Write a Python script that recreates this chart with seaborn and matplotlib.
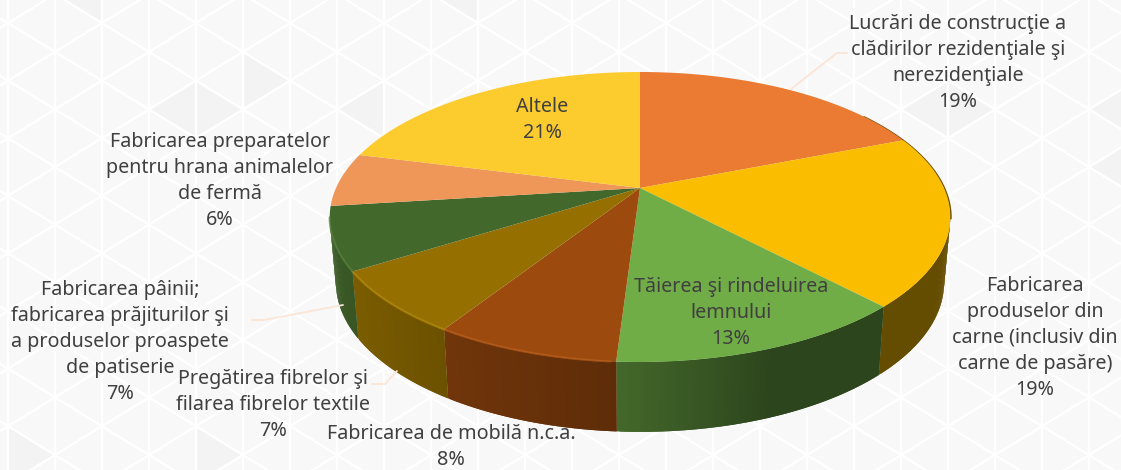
import matplotlib
matplotlib.use('Agg')
import matplotlib.pyplot as plt
import numpy as np
import seaborn as sns
from matplotlib.path import Path
from matplotlib.transforms import Affine2D, Transform

sns.set_theme(style='white')
plt.rcParams['font.family'] = ['Noto Sans', 'DejaVu Sans']

# data
categories = [
    'Lucrări de construcţie a\nclădirilor rezidenţiale şi\nnerezidenţiale',
    'Fabricarea\nproduselor din\ncarne (inclusiv din\ncarne de pasăre)',
    'Tăierea şi rindeluirea\nlemnului',
    'Fabricarea de mobilă n.c.a.',
    'Pregătirea fibrelor şi\nfilarea fibrelor textile',
    'Fabricarea pâinii;\nfabricarea prăjiturilor şi\na produselor proaspete\nde patiserie',
    'Fabricarea preparatelor\npentru hrana animalelor\nde fermă',
    'Altele',
]
values = [19, 19, 13, 8, 7, 7, 6, 21]
colors = ['#EB7B32', '#FBBD00', '#70AD47', '#9C4A0E', '#957000', '#43682B', '#EF9659', '#FCCB2E']

# label centres in image pixels
label_pos = [(958, 63), (1035, 338), (731, 313), (451, 447), (273, 405), (120, 342), (220, 181), (542, 120)]

CX, CY = 640, 188
A, B, K = 304, 139.2, 0.2


class Perspective(Transform):
    input_dims = output_dims = 2

    def transform_non_affine(self, values):
        xy = np.asarray(values)
        w = 1 + K * xy[:, 1]
        return np.column_stack([CX + A * xy[:, 0] / w, CY - B * xy[:, 1] / w])

    def transform_path_non_affine(self, path):
        # flatten the arc first, bezier handles do not survive the projection
        big = Affine2D().scale(2000).transform_path(path)
        poly = big.to_polygons(closed_only=False)[0] / 2000
        return Path(self.transform_non_affine(poly))


persp = Perspective()


def wall_shade(x):
    return np.interp(x, [-1, -0.6, -0.06, 0.35, 1], [0.88, 0.74, 0.6, 0.4, 0.4])


fig, ax = plt.subplots(figsize=(11.21, 4.7), dpi=100)
fig.subplots_adjust(0, 0, 1, 1)

palette = sns.color_palette(colors)
wedges, _ = ax.pie(values, colors=palette, startangle=90, counterclock=False,
                   wedgeprops={'linewidth': 0})
ax.set_aspect('auto')
ax.set_xlim(0, 1121)
ax.set_ylim(470, 0)
ax.set_facecolor('#F8F8F8')
ax.set_frame_on(True)
for s in ax.spines.values():
    s.set_visible(False)

# background pattern: white triangle grid with a few darker cells
GX, GY, STEP, ROW = 8, 23, 47, 57.6
dark_cells = [
    [(55, -6), (102, 23), (102, -35)],
    [(149, 110), (196, 81), (196, 138)],
    [(243, 110), (196, 81), (196, 138)],
    [(337, 110), (384, 81), (384, 138)],
    [(243, 52), (243, 110), (290, 81)],
    [(431, -6), (478, 23), (478, -35)],
    [(901, 110), (948, 81), (948, 138)],
    [(995, 110), (948, 81), (948, 138)],
    [(1089, 110), (1136, 81), (1136, 138)],
    [(1089, 167), (1136, 138), (1136, 196)],
    [(8, 426), (8, 484), (55, 455)],
    [(243, 455), (196, 426), (196, 484)],
]
for cell in dark_cells:
    xs, ys = zip(*cell)
    ax.fill(xs, ys, color='#F3F3F3', lw=0, zorder=0)

grid_x = np.array([0, 1121])
slope = ROW / 2 / STEP
for k in range(25):
    ax.plot([GX + k * STEP] * 2, [0, 470], color='white', lw=1.7, zorder=0.5)
for k in range(-20, 30):
    ax.plot(grid_x, GY + k * ROW + slope * (grid_x - GX), color='white', lw=1.7, zorder=0.5)
    ax.plot(grid_x, GY + k * ROW - slope * (grid_x - GX), color='white', lw=1.7, zorder=0.5)

# side walls and rim, thin strips on the visible front only
for wedge, col in zip(wedges, palette):
    t = np.radians(np.arange(wedge.theta1, wedge.theta2 + 0.5, 0.5))
    t[-1] = np.radians(wedge.theta2)
    t = t[np.sin(t) < -0.2]
    wedge.set_transform(persp + ax.transData)
    wedge.set_zorder(3)
    wedge.set_clip_on(False)
    if len(t) < 2:
        continue
    top = persp.transform_non_affine(np.column_stack([np.cos(t), np.sin(t)]))
    low = np.column_stack([CX + 0.98 * (top[:, 0] - CX), 59 + 1.03 * top[:, 1]])
    for i in range(len(t) - 1):
        c = tuple(np.array(col) * wall_shade(np.cos(t[i])))
        j = min(i + 3, len(t))
        quad = np.vstack([top[i:j], low[i:j][::-1]])
        ax.fill(quad[:, 0], quad[:, 1], color=c, lw=0, zorder=1)
    # light rim on the left part of the front edge
    left = np.cos(t) < -0.07
    rim = tuple(min(1, v * 1.12 + 0.04) for v in col)
    ax.plot(top[left, 0], top[left, 1], color=rim, lw=1.6, alpha=0.7, zorder=4)

# thin dark edge where the yellow slice curves over its wall
t = np.radians(np.linspace(35, -12, 60))
edge = persp.transform_non_affine(np.column_stack([np.cos(t), np.sin(t)]))
ax.plot(edge[:, 0] + 0.6, edge[:, 1] + 0.6, color='#665000', lw=1.2, zorder=2)

# leader lines
lead_color = '#FBE5D6'
ax.plot([847, 837, 791], [53, 53, 89], color=lead_color, lw=1.3, zorder=2)
ax.plot([252, 264, 343], [320, 320, 305], color=lead_color, lw=1.3, zorder=2)
ax.plot([372, 385, 397], [384, 384, 371], color=lead_color, lw=1.3, zorder=2)

for name, val, (x, y) in zip(categories, values, label_pos):
    ax.text(x, y, f'{name}\n{val}%', ha='center', va='center', fontsize=14.2,
            color='#404040', linespacing=1.4, zorder=6)

fig.savefig('out.png', dpi=100)
